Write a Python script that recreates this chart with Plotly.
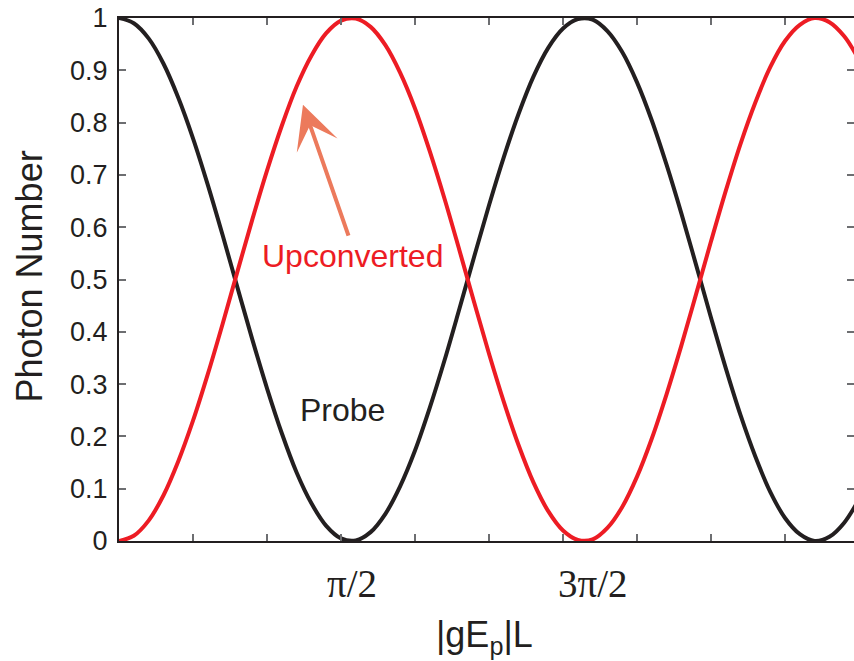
import plotly.graph_objects as go

# interaction length |gE_p|L (radians), sampled every 0.1
x_vals = [round(0.1 * i, 1) for i in range(51)]

probe = [1.000, 0.990, 0.961, 0.913, 0.848, 0.770, 0.681, 0.585, 0.485, 0.386,
         0.292, 0.206, 0.131, 0.072, 0.029, 0.005, 0.001, 0.017, 0.052, 0.105,
         0.173, 0.255, 0.346, 0.444, 0.544, 0.642, 0.734, 0.817, 0.888, 0.943,
         0.980, 0.998, 0.997, 0.975, 0.935, 0.877, 0.804, 0.719, 0.626, 0.527,
         0.427, 0.330, 0.240, 0.161, 0.094, 0.044, 0.013, 0.000, 0.008, 0.035,
         0.080]

upconverted = [0.000, 0.010, 0.039, 0.087, 0.152, 0.230, 0.319, 0.415, 0.515, 0.614,
               0.708, 0.794, 0.869, 0.928, 0.971, 0.995, 0.999, 0.983, 0.948, 0.895,
               0.827, 0.745, 0.654, 0.556, 0.456, 0.358, 0.266, 0.183, 0.112, 0.057,
               0.020, 0.002, 0.003, 0.025, 0.065, 0.123, 0.196, 0.281, 0.374, 0.473,
               0.573, 0.670, 0.760, 0.839, 0.906, 0.956, 0.987, 1.000, 0.992, 0.965,
               0.920]

y_tick_vals = [0, 0.1, 0.2, 0.3, 0.4, 0.5, 0.6, 0.7, 0.8, 0.9, 1]
y_tick_text = ["0", "0.1", "0.2", "0.3", "0.4", "0.5", "0.6", "0.7", "0.8", "0.9", "1"]

x_label_pos = [1.571, 3.2]
x_label_text = ["\u03c0/2", "3\u03c0/2"]

BLACK = "#231f20"
RED = "#ed1c24"
ARROW = "#ec7a5c"
TICK = "#6d6e71"
SANS = "Liberation Sans, Arial, sans-serif"
SERIF = "Liberation Serif, Times New Roman, serif"

fig = go.Figure()
fig.add_trace(go.Scatter(x=x_vals, y=probe, mode="lines", name="Probe",
                         line=dict(color=BLACK, width=4, shape="spline")))
fig.add_trace(go.Scatter(x=x_vals, y=upconverted, mode="lines", name="Upconverted",
                         line=dict(color=RED, width=4, shape="spline")))

annotations = []
for xv, txt in zip(x_label_pos, x_label_text):
    annotations.append(dict(x=xv, y=0, xref="x", yref="y", yshift=-42,
                            text=txt, showarrow=False, xanchor="center", yanchor="middle",
                            font=dict(family=SERIF, size=39, color=BLACK)))

# axis titles
annotations.append(dict(x=0.497, xref="paper", y=0, yref="y", yshift=-96,
                        text="|gE<sub>p</sub>|L", showarrow=False,
                        xanchor="center", yanchor="middle",
                        font=dict(family=SANS, size=36, color=BLACK)))
annotations.append(dict(x=0, xref="paper", xshift=-90, y=0.5, yref="paper", yshift=3,
                        text="Photon Number", showarrow=False, textangle=-90,
                        xanchor="center", yanchor="middle",
                        font=dict(family=SANS, size=36, color=BLACK)))

# curve labels
annotations.append(dict(x=1.58, y=0.545, xref="x", yref="y", text="Upconverted",
                        showarrow=False, xanchor="center", yanchor="middle",
                        font=dict(family=SANS, size=32, color=RED)))
annotations.append(dict(x=1.51, y=0.25, xref="x", yref="y", text="Probe",
                        showarrow=False, xanchor="center", yanchor="middle",
                        font=dict(family=SANS, size=32, color=BLACK)))

# arrow pointing to the upconverted curve
annotations.append(dict(x=1.243, y=0.834, xref="x", yref="y",
                        ax=1.554, ay=0.581, axref="x", ayref="y",
                        text="", showarrow=True, arrowhead=3, arrowsize=1.8,
                        arrowwidth=4, arrowcolor=ARROW, standoff=0))

fig.update_layout(
    width=854, height=661,
    margin=dict(l=119, r=0, t=18, b=120),
    paper_bgcolor="white", plot_bgcolor="white",
    showlegend=False,
    annotations=annotations,
    xaxis=dict(range=[0, 4.966], dtick=0.5, tick0=0, showticklabels=False,
               ticks="inside", ticklen=7, tickwidth=1.5, tickcolor=TICK,
               showline=True, linecolor=BLACK, linewidth=2, mirror="ticks",
               showgrid=False, zeroline=False),
    yaxis=dict(range=[0, 1], tickvals=y_tick_vals, ticktext=y_tick_text,
               ticks="inside", ticklen=7, tickwidth=1.5, tickcolor=TICK,
               showline=True, linecolor=BLACK, linewidth=2, mirror=False,
               showgrid=False, zeroline=False, ticklabelstandoff=4,
               tickfont=dict(family=SANS, size=27, color=BLACK)),
    # right-hand ticks only; the frame edge falls just outside the canvas
    yaxis2=dict(range=[0, 1], tickvals=y_tick_vals, overlaying="y", side="right",
                ticks="inside", ticklen=7, tickwidth=1.5, tickcolor=TICK,
                showticklabels=False, showline=False, showgrid=False,
                zeroline=False),
)

# invisible trace to activate the right-hand tick axis
fig.add_trace(go.Scatter(x=[0], y=[0], yaxis="y2", mode="markers",
                         marker=dict(opacity=0), hoverinfo="skip"))

fig.write_html("out.html")
